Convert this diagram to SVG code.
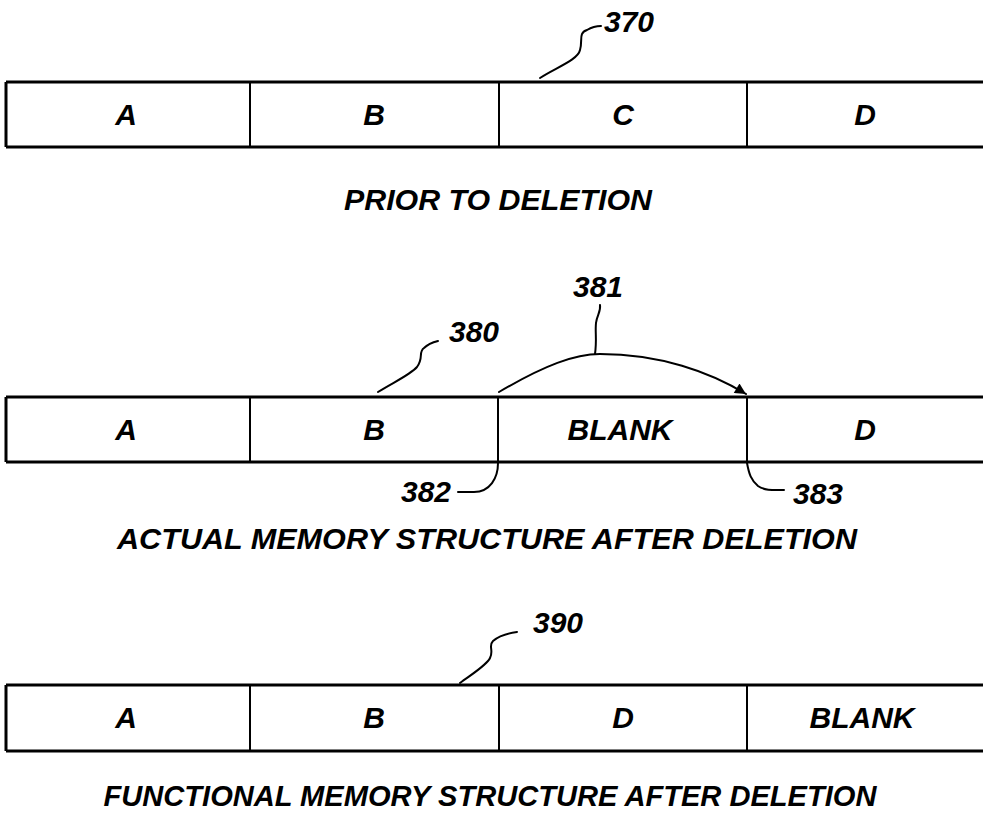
<svg xmlns="http://www.w3.org/2000/svg" width="983" height="817" viewBox="0 0 983 817">
<style>
text{font-family:"Liberation Sans",Arial,sans-serif;font-weight:bold;font-style:italic;font-size:30px;fill:#000;text-anchor:middle}
.edge{stroke:#000;stroke-width:3;fill:none}
.div{stroke:#000;stroke-width:2;fill:none}
.lead{stroke:#000;stroke-width:2;fill:none;stroke-linecap:round}
</style>
<defs>
<marker id="ah" viewBox="0 0 10 10" refX="10" refY="5" markerWidth="16" markerHeight="11" markerUnits="userSpaceOnUse" orient="auto">
<path d="M0,0 L10,5 L0,10 z" fill="#000"/>
</marker>
</defs>
<rect width="983" height="817" fill="#fff"/>

<g id="row370">
<path class="edge" d="M6,82 H983 M6,147 H983 M6,82 V147"/>
<path class="div" d="M250,82 V147 M499,82 V147 M747,82 V147"/>
<text x="126" y="125">A</text>
<text x="374" y="125">B</text>
<text x="623" y="125">C</text>
<text x="865" y="125">D</text>
</g>
<g id="cap1"><text x="498" y="210" textLength="308" lengthAdjust="spacingAndGlyphs">PRIOR TO DELETION</text></g>

<g id="row380">
<path class="edge" d="M6,397 H983 M6,462 H983 M6,397 V462"/>
<path class="div" d="M250,397 V462 M498,397 V462 M747,397 V462"/>
<text x="126" y="440">A</text>
<text x="374" y="440">B</text>
<text x="620" y="440">BLANK</text>
<text x="865" y="440">D</text>
</g>
<g id="cap2"><text x="487" y="549" textLength="740" lengthAdjust="spacingAndGlyphs">ACTUAL MEMORY STRUCTURE AFTER DELETION</text></g>

<g id="row390">
<path class="edge" d="M6,685 H983 M6,751 H983 M6,685 V751"/>
<path class="div" d="M250,685 V751 M499,685 V751 M747,685 V751"/>
<text x="126" y="728">A</text>
<text x="374" y="728">B</text>
<text x="623" y="728">D</text>
<text x="862" y="728">BLANK</text>
</g>
<g id="cap3"><text x="490" y="806" textLength="773" lengthAdjust="spacingAndGlyphs">FUNCTIONAL MEMORY STRUCTURE AFTER DELETION</text></g>

<g id="labels">
<text x="629" y="32">370</text>
<text x="598" y="297">381</text>
<text x="474" y="342">380</text>
<text x="426" y="502">382</text>
<text x="818" y="504">383</text>
<text x="558" y="633">390</text>
</g>

<g id="connectors">
<path class="lead" d="M540,78 C555,68 578,60 580,50 C583,40 578,33 587,30 C592,27 596,26 601,26"/>
<path class="lead" d="M378,392 C392,383 410,375 417,367 C424,358 418,352 424,348 C428,344 434,342 438,341"/>
<path class="lead" d="M595,354 C597,340 595,332 596,323 C597,315 601,312 600,305"/>
<path class="lead" d="M499,392 C545,365 575,354 600,354 C660,354 710,372 746,394" marker-end="url(#ah)"/>
<path class="lead" d="M498,463 C498,478 490,492 474,492 L458,492"/>
<path class="lead" d="M747,463 C749,474 751,480 758,486 C765,491 775,490 784,490"/>
<path class="lead" d="M460,683 C472,674 487,665 490,658 C494,650 488,646 493,641 C499,636 510,633 517,632"/>
</g>
</svg>
